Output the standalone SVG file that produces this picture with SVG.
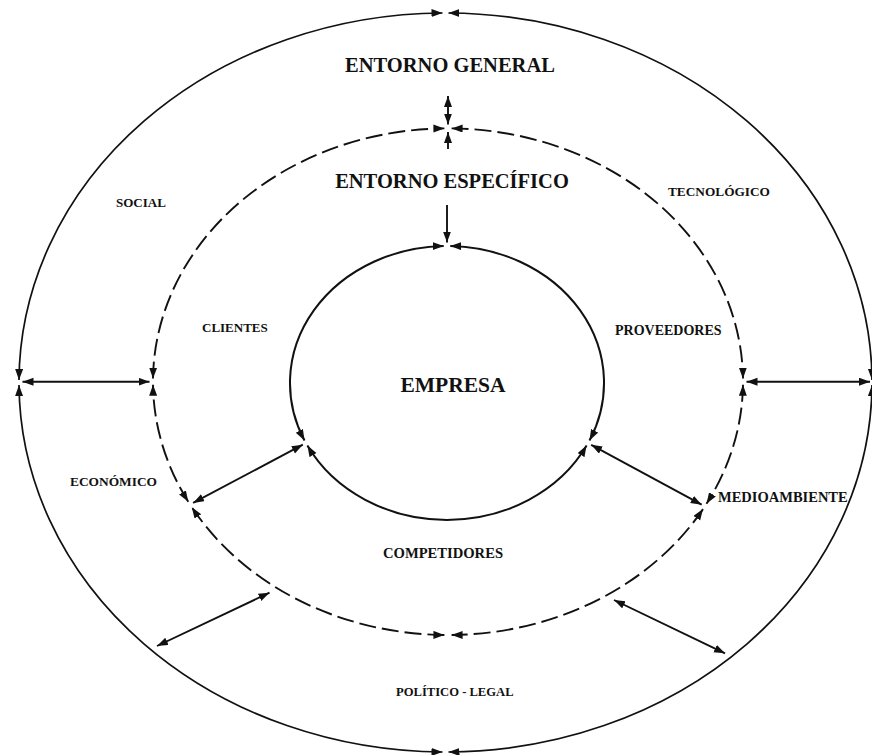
<svg xmlns="http://www.w3.org/2000/svg" width="872" height="755" viewBox="0 0 872 755">
<style>
.bg{fill:#ffffff}
.ring{fill:none;stroke:#111;stroke-width:1.7;marker-start:url(#ah);marker-end:url(#ah)}
.dash{stroke-dasharray:17 6;stroke-width:1.9}
.inner{stroke-width:2}
.arr{fill:none;stroke:#111;stroke-width:1.9}
.both{marker-start:url(#ah);marker-end:url(#ah)}
.one{marker-end:url(#ah)}
text{font-family:"Liberation Serif","Times New Roman",serif;font-weight:bold;fill:#111}
.big{font-size:20.5px}
.sm{font-size:13px}
</style>
<defs>
<marker id="ah" markerUnits="userSpaceOnUse" markerWidth="12" markerHeight="9" refX="11" refY="4" orient="auto-start-reverse">
<path d="M0,0 L11,4 L0,8 z" fill="#111"/>
</marker>
</defs>
<rect class="bg" x="0" y="0" width="872" height="755"/>
<g id="entorno-general">
<path class="ring" d="M448.5 13 A426.5 369.5 0 0 1 872 379.9"/>
<path class="ring" d="M872 385.1 A426.5 369.5 0 0 1 448.5 752"/>
<path class="ring" d="M442.5 752 A426.5 369.5 0 0 1 19 385.1"/>
<path class="ring" d="M19 379.9 A426.5 369.5 0 0 1 442.5 13"/>
<text class="big" x="450" y="72" text-anchor="middle">ENTORNO GENERAL</text>
<text class="sm" x="116" y="207">SOCIAL</text>
<text class="sm" x="668" y="196" style="font-size:13.3px">TECNOLÓGICO</text>
<text class="sm" x="70" y="486" style="font-size:13.4px">ECONÓMICO</text>
<text class="sm" x="718" y="502" style="font-size:14.5px">MEDIOAMBIENTE</text>
<text class="sm" x="396" y="696" style="font-size:12.6px">POLÍTICO - LEGAL</text>
</g>
<g id="entorno-especifico">
<path class="ring dash" d="M451.6 128.4 A295 253.3 0 0 1 743 378.6"/>
<path class="ring dash" d="M743 384.8 A295 253.3 0 0 1 706.5 503.7"/>
<path class="ring dash" d="M703 509.1 A295 253.3 0 0 1 451.6 635"/>
<path class="ring dash" d="M444.4 635 A295 253.3 0 0 1 191.8 507.2"/>
<path class="ring dash" d="M188.3 501.8 A295 253.3 0 0 1 153 384.8"/>
<path class="ring dash" d="M153 378.6 A295 253.3 0 0 1 444.4 128.4"/>
<text class="big" x="452" y="188" text-anchor="middle">ENTORNO ESPECÍFICO</text>
<text class="sm" x="202" y="332">CLIENTES</text>
<text class="sm" x="615" y="335" style="font-size:14px">PROVEEDORES</text>
<text class="sm" x="383" y="558" style="font-size:14.6px">COMPETIDORES</text>
</g>
<g id="empresa">
<path class="ring inner" d="M450.3 246 A157 137 0 0 1 589.5 440.5"/>
<path class="ring inner" d="M586.6 445.6 A157 137 0 0 1 307.4 445.6"/>
<path class="ring inner" d="M304.5 440.5 A157 137 0 0 1 443.7 246"/>
<text x="453" y="392" text-anchor="middle" style="font-size:21.5px">EMPRESA</text>
</g>
<g id="connectors">
<line class="arr both" x1="448" y1="96" x2="448" y2="124.5"/>
<line class="arr one" x1="448" y1="149" x2="448" y2="132"/>
<line class="arr one" x1="447" y1="205" x2="447" y2="242.5"/>
<line class="arr both" x1="22.5" y1="381.7" x2="149.5" y2="381.7"/>
<line class="arr both" x1="746.5" y1="381.7" x2="870" y2="381.7"/>
<line class="arr both" x1="193.1" y1="502.9" x2="302.8" y2="444.7"/>
<line class="arr both" x1="591.2" y1="444.8" x2="701.7" y2="504.7"/>
<line class="arr both" x1="157" y1="646" x2="269.5" y2="592.7"/>
<line class="arr both" x1="614" y1="600" x2="725" y2="653.3"/>
</g>
</svg>
